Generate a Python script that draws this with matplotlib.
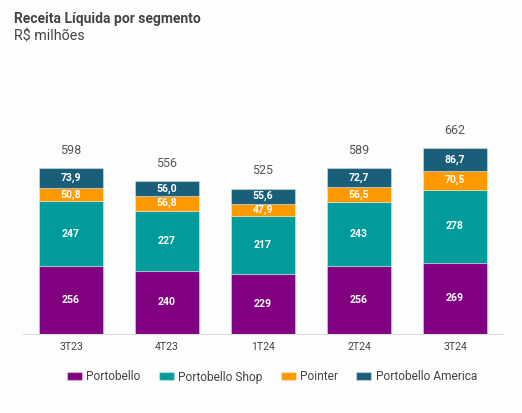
import matplotlib
matplotlib.use("Agg")
import matplotlib.pyplot as plt
from matplotlib.patches import Patch
import numpy as np

plt.rcParams['font.family'] = ['Roboto', 'DejaVu Sans']

categories = ["3T23", "4T23", "1T24", "2T24", "3T24"]
portobello = [256, 240, 229, 256, 269]
portobello_shop = [247, 227, 217, 243, 278]
pointer = [50.8, 56.8, 47.9, 56.5, 70.5]
portobello_america = [73.9, 56.0, 55.6, 72.7, 86.7]
totals = [598, 556, 525, 589, 662]

series_names = ["Portobello", "Portobello Shop", "Pointer", "Portobello America"]
series = [portobello, portobello_shop, pointer, portobello_america]
colors = ["#800080", "#009B9A", "#FF9900", "#1B5E79"]

def fmt(v):
    if float(v).is_integer() and v >= 100:
        return f"{int(v)}"
    return f"{v:.1f}".replace(".", ",")

fig = plt.figure(figsize=(5.22, 4.13), dpi=100, facecolor="#FDFDFD")
ax = fig.add_axes([23/522, (413-334)/413, 480/522, 274/413])
ax.set_facecolor("#FDFDFD")

x = np.arange(len(categories))
bottom = np.zeros(len(categories))
for name, vals, c in zip(series_names, series, colors):
    vals = np.array(vals, dtype=float)
    ax.bar(x, vals, width=0.667, bottom=bottom, color=c,
           edgecolor=(1, 1, 1, 0.35), linewidth=0.8)
    for xi, b, v in zip(x, bottom, vals):
        ax.text(xi, b + v / 2, fmt(v), ha="center", va="center",
                color="white", fontsize=7.6, fontweight="bold")
    bottom += vals

for xi, top, t in zip(x, bottom, totals):
    ax.text(xi, top + 68, str(t), ha="center", va="center",
            color="#555555", fontsize=9)

ax.set_xlim(-0.5, 4.5)
ax.set_ylim(0, 1038)
ax.set_xticks(x)
ax.set_xticklabels(categories, fontsize=7.6, color="#444444")
ax.tick_params(axis="x", length=0, pad=6)
ax.set_yticks([])
for s in ["left", "right", "top"]:
    ax.spines[s].set_visible(False)
ax.spines["bottom"].set_color("#DDDDDD")
ax.spines["bottom"].set_linewidth(0.8)

fig.text(14/522, 1 - 19/413, "Receita Líquida por segmento", fontsize=10,
         fontweight="bold", color="#444444", ha="left", va="center")
fig.text(14/522, 1 - 36/413, "R$ milhões", fontsize=10.3,
         color="#444444", ha="left", va="center")

handles = [Patch(facecolor=c, edgecolor=(1, 1, 1, 0.35), label=n)
           for n, c in zip(series_names, colors)]
fig.legend(handles=handles, loc="center", bbox_to_anchor=(272/522, 1 - 377/413),
           ncol=4, frameon=False, fontsize=8.6, labelcolor="#444444",
           handlelength=1.25, handleheight=0.6, handletextpad=0.4,
           columnspacing=1.5)

fig.savefig("out.png", dpi=100, facecolor=fig.get_facecolor())
